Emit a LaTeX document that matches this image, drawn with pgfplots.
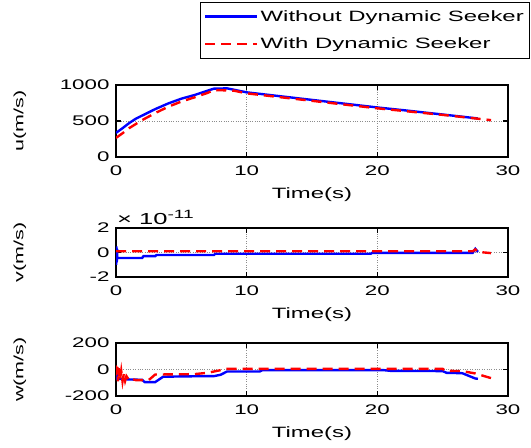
\documentclass[border=0pt]{standalone}
\usepackage{fontspec}
\setmainfont[FakeStretch=1.6]{Liberation Sans}
\usepackage{pgfplots}
\pgfplotsset{compat=1.18}

\definecolor{mblue}{RGB}{0,0,255}
\definecolor{mred}{RGB}{255,0,0}

\pgfplotsset{
  matlab/.style={
    scale only axis, width=392bp, anchor=south west, clip mode=individual,
    xmin=0, xmax=30, xtick={0,10,20,30},
    grid=major, major grid style={dotted, black!45, line width=0.7pt},
    axis line style={line width=1.1pt}, tick style={black, line width=1.1pt},
    major tick length=5bp, tick align=inside,
    xtick pos=both, ytick pos=both,
    /pgf/number format/assume math mode=true,
    /pgf/number format/1000 sep={},
    tick label style={font=\fontsize{14}{14}\selectfont},
    xticklabel style={yshift=-5bp},
    yticklabel style={xshift=-3bp},
    label style={font=\fontsize{15}{15}\selectfont},
    xlabel={Time(s)},
    xlabel style={at={(axis description cs:0.5,0)}, anchor=center, yshift=-38bp},
    ylabel style={at={(axis description cs:-0.245,0.5)}, anchor=center,
      font=\fontsize{13.5}{13.5}\selectfont},
  },
  noline/.style={mblue, line width=2.4pt},
  dynline/.style={mred, line width=2.4pt, dash pattern=on 10bp off 6bp},
}

\begin{document}
\begin{tikzpicture}
\useasboundingbox (0,0) rectangle (531bp,448bp);

% u
\begin{axis}[matlab, at={(116bp,291bp)}, height=72bp,
  ymin=0, ymax=1000, ytick={0,500,1000}, ylabel={u(m/s)},
  legend style={at={(axis description cs:0.214,2.153)}, anchor=north west,
    draw=black, line width=0.8pt, fill=white,
    font=\fontsize{15}{15}\selectfont, row sep=11bp,
    inner xsep=4bp, inner ysep=6bp, cells={anchor=west}},
  legend image code/.code={\draw[#1] (0bp,0bp) -- (52bp,0bp);},
]
\addplot[noline] coordinates {
  (0,335) (0.5,400) (1,470) (1.5,530) (2,575) (3,665) (4,744) (5,810) (6,860)
  (7,920) (7.5,950) (8.5,953) (9,935) (10,898) (12,856) (14,814) (16,772)
  (18,730) (20,688) (22,650) (24,610) (26,570) (27.7,535)};
\addlegendentry{Without Dynamic Seeker}
\addplot[dynline] coordinates {
  (0,265) (0.5,330) (1,400) (2,512) (3,610) (4,698) (5,770) (6,828) (7,890)
  (7.5,930) (9,922) (10,884) (15,780) (20,676) (25,585) (28.7,512)};
\addlegendentry{With Dynamic Seeker}
\end{axis}

% v
\begin{axis}[matlab, at={(116bp,171bp)}, height=49bp,
  ymin=-2, ymax=2, ytick={-2,0,2}, ylabel={v(m/s)}]
\addplot[noline] coordinates {
  (0,0) (0.02,-1.0) (0.04,0.5) (0.06,-0.8) (0.08,0.3) (0.1,-0.45) (2,-0.45)
  (2.1,-0.3) (3,-0.3) (3.1,-0.2) (7.5,-0.2) (7.6,-0.1) (19.5,-0.1) (19.6,-0.03)
  (27.3,-0.03) (27.5,0.3) (27.7,0.05)};
\addplot[dynline] coordinates {
  (0,0.1) (27.3,0.1) (27.5,0.25) (27.7,0.05) (28.7,-0.05)};
\node[anchor=south west, inner sep=1bp]
  at (axis description cs:0,1.04)
  {\fontsize{16}{16}\selectfont × 10\raisebox{6bp}{\fontsize{12}{12}\selectfont -11}};
\end{axis}

% w
\begin{axis}[matlab, at={(116bp,52bp)}, height=53bp,
  ymin=-200, ymax=200, ytick={-200,0,200}, ylabel={w(m/s)}]
\addplot[noline] coordinates {
  (0,0) (0.05,-40) (0.1,-70) (1,-75) (2,-78) (2.2,-95) (3,-95) (3.6,-55)
  (5,-52) (7.5,-50) (8,-40) (8.5,-15) (11,-15) (11.2,-5) (20.5,-5) (21,-10)
  (25,-12) (25.3,-25) (26.5,-28) (27.5,-68) (27.7,-70)};
\addplot[dynline] coordinates {
  (0,30) (0.05,-60) (0.1,20) (0.15,-90) (0.2,10) (0.3,-80) (0.4,-10) (0.5,-90)
  (0.6,-30) (0.7,-85) (0.8,-50) (1,-80) (1.2,-70) (1.5,-80) (2.5,-80) (3,-38)
  (6,-35) (7,-25) (8.5,5) (25,5) (25.2,-10) (26.5,-12) (27.5,-30) (28.7,-65)};
\end{axis}
\end{tikzpicture}
\end{document}
